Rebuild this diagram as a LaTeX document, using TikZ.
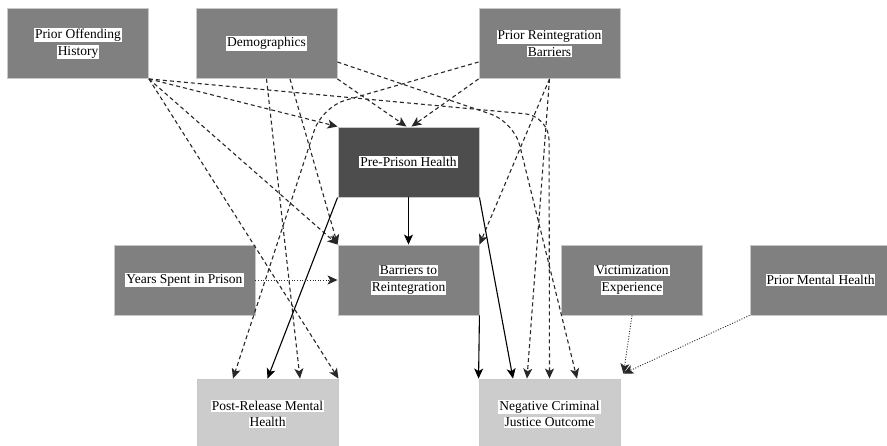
\documentclass[tikz,border=0pt]{standalone}
\usepackage{fontspec}
\setmainfont{Liberation Serif}
\usetikzlibrary{arrows.meta,calc}

\definecolor{boxmid}{RGB}{128,128,128}
\definecolor{boxdark}{RGB}{77,77,77}
\definecolor{boxlight}{RGB}{204,204,204}
\definecolor{boxrim}{RGB}{200,200,200}
\definecolor{linkgray}{RGB}{40,40,40}

% each label line sits on its own white strip
\setlength{\fboxsep}{1pt}
\newcommand{\lbl}[1]{\colorbox{white}{#1}}

\begin{document}
\begin{tikzpicture}[x=1pt,y=-1pt,
  box/.style={draw=boxrim, line width=0.9pt, minimum width=141pt, minimum height=70pt,
              inner sep=0pt, align=center, font=\fontsize{13.5}{16.5}\selectfont},
  midbox/.style={box, fill=boxmid},
  darkbox/.style={box, fill=boxdark},
  lightbox/.style={box, fill=boxlight},
  link/.style={-{Stealth[length=10pt,width=9pt,inset=2.5pt]}, line width=1.1pt},
  dashlink/.style={link, draw=linkgray, dash pattern=on 4pt off 3pt},
  solidlink/.style={link, draw=black},
  dotlink/.style={link, draw=linkgray, line width=0.9pt, dash pattern=on 1pt off 1.6pt},
  curvedlink/.style={rounded corners=24pt}]

\useasboundingbox (0,0) rectangle (887,445);

% ---- nodes ----
\node[midbox]   (poh)  at (78,43.5)   {\lbl{Prior Offending}\\\lbl{History}};
\node[midbox]   (dem)  at (266.5,43.5) {\lbl{Demographics}};
\node[midbox]   (prb)  at (549.5,43.5) {\lbl{Prior Reintegration}\\\lbl{Barriers}};
\node[darkbox]  (pph)  at (408.5,162)  {\lbl{Pre-Prison Health}};
\node[midbox]   (ysp)  at (184.5,280)  {\lbl{Years Spent in Prison}};
\node[midbox]   (btr)  at (408.5,280)  {\lbl{Barriers to}\\\lbl{Reintegration}};
\node[midbox]   (vic)  at (632,280)    {\lbl{Victimization}\\\lbl{Experience}};
\node[midbox]   (pmh)  at (820.5,280)  {\lbl{Prior Mental Health}};
\node[lightbox] (prmh) at (267.5,414)  {\lbl{Post-Release Mental}\\\lbl{Health}};
\node[lightbox] (ncjo) at (549.5,414)  {\lbl{Negative Criminal}\\\lbl{Justice Outcome}};

% bend points of the three curved links
\coordinate (bendA) at (549,116);
\coordinate (bendB) at (514,122);
\coordinate (bendC) at (322,107);

% ---- prior offending history ----
\draw[dashlink] (poh.south east) -- (pph.north west);
\draw[dashlink] (poh.south east) -- (btr.north west);
\draw[dashlink] (poh.south east) -- (prmh.north east);
\draw[dashlink,curvedlink] (poh.south east) -- (bendA) -- (ncjo.north);

% ---- demographics ----
\draw[dashlink] (dem.south) -- ($(prmh.north)+(32.5,0)$);
\draw[dashlink] ($(dem.south)+(23.5,0)$) -- (btr.north west);
\draw[dashlink] (dem.south east) -- ($(pph.north)+(-2,0)$);
\draw[dashlink,curvedlink] ($(dem.east)+(0,18.5)$) -- (bendB) -- ($(ncjo.north)+(27.5,0)$);

% ---- prior reintegration barriers ----
\draw[dashlink] (prb.south west) -- ($(pph.north)+(3,0)$);
\draw[dashlink] (prb.south) -- (btr.north east);
\draw[dashlink] (prb.south) -- ($(ncjo.north)+(-22.5,0)$);
\draw[dashlink,curvedlink] ($(prb.west)+(0,18.5)$) -- (bendC) -- ($(prmh.north)+(-34.5,0)$);

% ---- pre-prison health and barriers ----
\draw[solidlink] (pph.south) -- (btr.north);
\draw[solidlink] (pph.south west) -- (prmh.north);
\draw[solidlink] (pph.south east) -- ($(ncjo.north)+(-36.5,0)$);
\draw[solidlink] (btr.south east) -- (ncjo.north west);

% ---- dotted influences ----
\draw[dotlink] (ysp.east) -- (btr.west);
\draw[dotlink] (vic.south) -- ($(ncjo.north east)+(3,-5)$);
\draw[dotlink] (pmh.south west) -- ($(ncjo.north east)+(3,-5)$);

\end{tikzpicture}
\end{document}
